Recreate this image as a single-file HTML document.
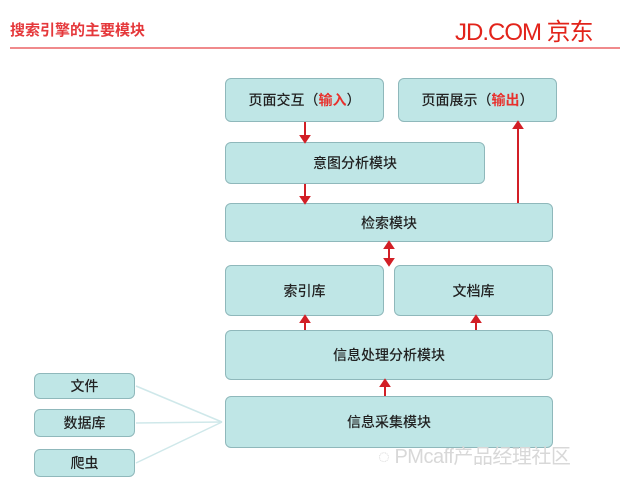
<!DOCTYPE html>
<html><head><meta charset="utf-8"><style>
body{margin:0;width:627px;height:486px;background:#fff;position:relative;overflow:hidden;font-family:"Liberation Sans","Noto Sans CJK SC",sans-serif}
.b{position:absolute;background:#bfe6e6;border:1.5px solid #8fb8bb;border-radius:6px;box-sizing:border-box;display:flex;align-items:center;justify-content:center;font-size:14px;color:#222;font-weight:500}
.r{color:#e8302c;font-weight:bold}
</style></head><body>
<div style="position:absolute;left:10px;top:19px;font-size:15px;color:#e5383b;font-weight:bold">搜索引擎的主要模块</div>
<div style="position:absolute;left:455px;top:12px;font-size:24px;color:#e2231a;letter-spacing:-1px">JD.COM 京东</div>
<div style="position:absolute;left:10px;top:47px;width:610px;height:2px;background:#f08a8c"></div>
<div class="b" style="left:225px;top:78px;width:159px;height:44px">页面交互（<span class="r">输入</span>）</div>
<div class="b" style="left:398px;top:78px;width:159px;height:44px">页面展示（<span class="r">输出</span>）</div>
<div class="b" style="left:225px;top:142px;width:260px;height:42px">意图分析模块</div>
<div class="b" style="left:225px;top:203px;width:328px;height:39px">检索模块</div>
<div class="b" style="left:225px;top:265px;width:159px;height:51px">索引库</div>
<div class="b" style="left:394px;top:265px;width:159px;height:51px">文档库</div>
<div class="b" style="left:225px;top:330px;width:328px;height:50px">信息处理分析模块</div>
<div class="b" style="left:225px;top:396px;width:328px;height:52px">信息采集模块</div>
<div class="b" style="left:34px;top:373px;width:101px;height:26px">文件</div>
<div class="b" style="left:34px;top:409px;width:101px;height:28px">数据库</div>
<div class="b" style="left:34px;top:449px;width:101px;height:28px">爬虫</div>
<svg style="position:absolute;left:0;top:0" width="627" height="486">
<g stroke="#d21f26" stroke-width="2" fill="#d21f26">
<line x1="305" y1="122" x2="305" y2="138"/><path d="M301,136 L309,136 L305,142Z"/>
<line x1="305" y1="184" x2="305" y2="199"/><path d="M301,197 L309,197 L305,203Z"/>
<line x1="518" y1="203" x2="518" y2="127"/><path d="M514,128 L522,128 L518,122Z"/>
<line x1="389" y1="246" x2="389" y2="261"/><path d="M385,248 L393,248 L389,242Z"/><path d="M385,259 L393,259 L389,265Z"/>
<line x1="305" y1="330" x2="305" y2="320"/><path d="M301,322 L309,322 L305,316Z"/>
<line x1="476" y1="330" x2="476" y2="320"/><path d="M472,322 L480,322 L476,316Z"/>
<line x1="385" y1="396" x2="385" y2="385"/><path d="M381,386 L389,386 L385,380Z"/>
</g>
<g stroke="#cfe8ea" stroke-width="1.5" fill="none">
<line x1="136" y1="386" x2="222" y2="422"/><line x1="136" y1="423" x2="222" y2="422"/><line x1="136" y1="463" x2="222" y2="422"/>
</g>
</svg>
<div style="position:absolute;left:378px;top:440px;font-size:20px;color:#d8d8d8;letter-spacing:-0.5px">◌ PMcaff产品经理社区</div>
</body></html>
